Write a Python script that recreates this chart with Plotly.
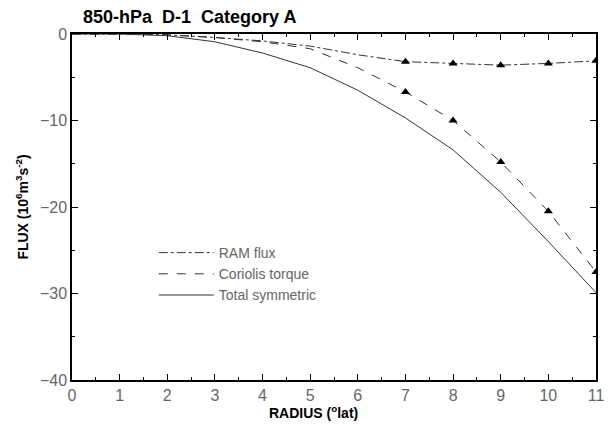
import plotly.graph_objects as go

radius = [0, 1, 2, 3, 4, 5, 6, 7, 8, 9, 10, 11]
ram_flux = [0, 0, -0.1, -0.4, -0.8, -1.4, -2.4, -3.2, -3.4, -3.6, -3.4, -3.1]
coriolis = [0, 0, -0.1, -0.4, -0.9, -1.7, -3.9, -6.7, -10.0, -14.8, -20.5, -27.5]
total_sym = [0, 0, -0.2, -0.9, -2.2, -3.9, -6.5, -9.7, -13.4, -18.3, -24.0, -29.9]
marker_x = [7, 8, 9, 10, 11]
ram_marks = [-3.2, -3.4, -3.6, -3.4, -3.1]
cor_marks = [-6.7, -10.0, -14.8, -20.5, -27.5]

xticks = list(range(0, 12))
yticks = [0, -10, -20, -30, -40]
ytick_text = ["0", "\u221210", "\u221220", "\u221230", "\u221240"]

L, R, T, B = 72, 604, 34, 380
W, H = 613, 435

fig = go.Figure()
fig.add_trace(go.Scatter(x=radius, y=ram_flux, mode="lines", name="RAM flux",
                         line=dict(color="#333", width=1, dash="dashdot")))
fig.add_trace(go.Scatter(x=radius, y=coriolis, mode="lines", name="Coriolis torque",
                         line=dict(color="#333", width=1, dash="dash")))
fig.add_trace(go.Scatter(x=radius, y=total_sym, mode="lines", name="Total symmetric",
                         line=dict(color="#333", width=1)))
fig.add_trace(go.Scatter(x=marker_x, y=ram_marks, mode="markers", showlegend=False,
                         marker=dict(symbol="triangle-up", size=8, color="black")))
fig.add_trace(go.Scatter(x=marker_x, y=cor_marks, mode="markers", showlegend=False,
                         marker=dict(symbol="triangle-up", size=8, color="black")))

axis_common = dict(showline=True, linecolor="black", linewidth=1.5, mirror="ticks",
                   ticks="inside", ticklen=6, tickcolor="black", showgrid=False,
                   zeroline=False, ticklabeloverflow="allow",
                   tickfont=dict(family="Liberation Sans", size=16, color="#666"))

fig.update_xaxes(range=[0, 11], tickvals=xticks,
                 minor=dict(dtick=0.5, ticks="inside", ticklen=3, tickcolor="black"),
                 **axis_common)
fig.update_yaxes(range=[-40, 0], tickvals=yticks, ticktext=ytick_text,
                 minor=dict(dtick=5, ticks="inside", ticklen=3, tickcolor="black"),
                 title=dict(text="<b>FLUX (10<sup>6</sup>m<sup>3</sup>s<sup>-2</sup>)</b>", standoff=8,
                            font=dict(family="Liberation Sans", size=14, color="black")),
                 **axis_common)

fig.add_annotation(text="<b>RADIUS (<sup>o</sup>lat)</b>", xref="paper", yref="paper",
                   x=(317 - L) / (R - L), y=-(412 - B) / (B - T),
                   xanchor="center", yanchor="middle", showarrow=False,
                   font=dict(family="Liberation Sans", size=14, color="black"))

fig.update_layout(
    width=W, height=H,
    margin=dict(l=L, r=W - R, t=T, b=H - B),
    plot_bgcolor="white", paper_bgcolor="white",
    title=dict(text="<b>850-hPa  D-1  Category A</b>", x=83 / W, xanchor="left",
               y=1 - 17 / H, yanchor="middle",
               font=dict(family="Liberation Sans", size=18, color="black")),
    legend=dict(x=(155 - L) / (R - L), y=1 - (237 - T) / (B - T), xanchor="left", yanchor="top",
                bgcolor="rgba(0,0,0,0)", itemwidth=55, tracegroupgap=0,
                font=dict(family="Liberation Sans", size=14, color="#666")),
)

fig.write_html("out.html")
